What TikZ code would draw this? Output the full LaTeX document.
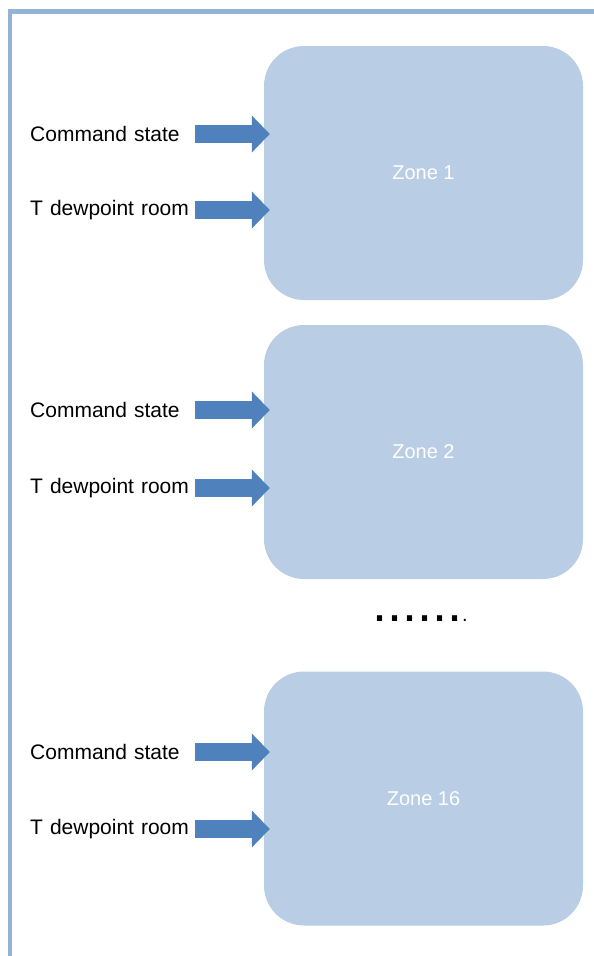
\documentclass[tikz,border=0pt]{standalone}
\usepackage{fontspec}
\setmainfont{Liberation Sans}
\usetikzlibrary{arrows.meta}
\definecolor{framec}{HTML}{95B3D7}
\definecolor{zonec}{HTML}{B9CDE5}
\definecolor{arrowc}{HTML}{4F81BD}

\begin{document}
\begin{tikzpicture}[x=1pt,y=-1pt] %% tikz
	\tikzstyle{zone}=[fill=zonec,rounded corners=40pt,minimum width=319pt,minimum height=254pt,text=white,font=\fontsize{20}{24}\selectfont];
	\tikzstyle{signal}=[anchor=west,inner sep=0pt,text width=165pt,align=left,font=\fontsize{21}{25}\selectfont];
	\tikzstyle{fat}=[arrowc,line width=18pt,-{Triangle[length=18pt,width=36pt]},shorten >=-6pt];
	\useasboundingbox (0,0) rectangle (594,956);
	%% frame
	\draw[framec,line width=4.5pt] (10,956) -- (10,11.5) -- (594,11.5);
	%% zones
	\node[zone] (Z1) at (423.5,173) {Zone 1};
	\node[zone] (Z2) at (423.5,452) {Zone 2};
	\node[zone] (Z16) at (423.5,798.5) {Zone 16};
	%% inputs
	\node[signal] (CS1) at (30,134) {Command state};
	\node[signal] (TD1) at (30,210) {T dewpoint room};
	\node[signal] (CS2) at (30,410) {Command state};
	\node[signal] (TD2) at (30,488) {T dewpoint room};
	\node[signal] (CS16) at (30,752) {Command state};
	\node[signal] (TD16) at (30,829) {T dewpoint room};
	%% arrows
	\draw[fat] (CS1.east) -- (CS1.east -| Z1.west);
	\draw[fat] (TD1.east) -- (TD1.east -| Z1.west);
	\draw[fat] (CS2.east) -- (CS2.east -| Z2.west);
	\draw[fat] (TD2.east) -- (TD2.east -| Z2.west);
	\draw[fat] (CS16.east) -- (CS16.east -| Z16.west);
	\draw[fat] (TD16.east) -- (TD16.east -| Z16.west);
	%% dots between zone 2 and zone 16
	\node[anchor=base west,inner sep=0pt] (dots) at (372,621) {{\fontsize{54}{54}\selectfont ......}{\fontsize{20}{20}\selectfont .}};
\end{tikzpicture}
\end{document}
